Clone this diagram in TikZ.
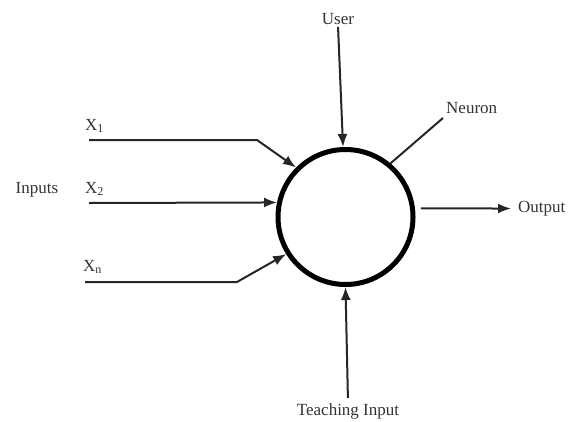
\documentclass[tikz,border=0pt]{standalone}
\usepackage{fontspec}
\setmainfont{Liberation Serif}
\usetikzlibrary{arrows.meta}
\begin{document}
\begin{tikzpicture}[x=1pt,y=-1pt,
  lbl/.style={font=\fontsize{17}{20}\selectfont, text=black!80, inner sep=1pt},
  conn/.style={line width=2pt, black!85},
  arr/.style={conn, -{Latex[length=13pt,width=10pt]}},
  neuronstyle/.style={circle, draw=black, line width=5pt, minimum size=135pt, inner sep=0pt, outer sep=2.5pt}]
\useasboundingbox[fill=white] (0,0) rectangle (570,421);
\node[neuronstyle] (neuron) at (345.5,217) {};
% labels
\node[lbl] (inputs) at (37,190) {Inputs};
\node[lbl, anchor=south west] (x1) at (84,134) {X\textsubscript{\large 1}};
\node[lbl, anchor=south west] (x2) at (84,197) {X\textsubscript{\large 2}};
\node[lbl, anchor=south west] (xn) at (82,275) {X\textsubscript{\large n}};
\node[lbl] (user) at (338,19) {User};
\node[lbl, anchor=west] (neuronlbl) at (445,108) {Neuron};
\node[lbl, anchor=west] (output) at (517,208.5) {Output};
\node[lbl] (teach) at (348,411) {Teaching Input};
% input lines
\coordinate (s1) at (89,140);
\coordinate (b1) at (257,140);
\coordinate (s2) at (89,203);
\coordinate (sn) at (85,282);
\coordinate (bn) at (237,282);
\draw[arr] (s1) -- (b1) -- (neuron.135);
\draw[arr] (s2) -- (neuron.168.5);
\draw[arr] (sn) -- (bn) -- (neuron.212);
% user
\draw[arr, shorten <=1pt] (user.south) -- (neuron.92);
% neuron pointer
\coordinate (np) at (443,118);
\draw[conn] (np) -- (neuron.50);
% output
\draw[arr] ([xshift=6pt]neuron.7) -- ([xshift=-6pt]output.west);
% teaching
\draw[arr, shorten <=4pt] (teach.north) -- (neuron.270);
\end{tikzpicture}
\end{document}
